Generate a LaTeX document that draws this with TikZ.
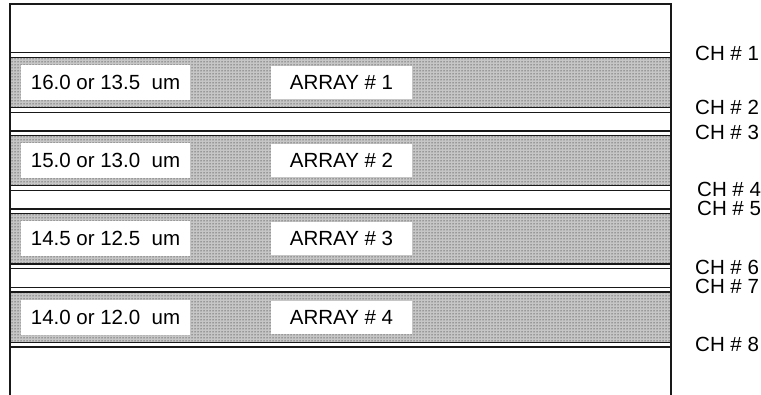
\documentclass[tikz,border=0pt]{standalone}
\usepackage{fontspec}
\setmainfont{Liberation Sans}
\usetikzlibrary{patterns}
\begin{document}
\begin{tikzpicture}[x=1pt,y=-1pt,
  frameline/.style={draw=black!90, line width=1.3pt},
  band/.style={draw=black!90, line width=1.2pt, preaction={fill=gray!45}, pattern=dots, pattern color=black},
  lblbox/.style={fill=white, draw=none, inner sep=0pt, font=\fontsize{20.5}{23}\selectfont},
  chlbl/.style={anchor=base west, inner sep=0pt, font=\fontsize{20.5}{23}\selectfont}]
\useasboundingbox (0,0) rectangle (761,395);
% outer frame
\draw[frameline] (10,395) -- (10,4) -- (671,4) -- (671,395);
% strips
\foreach \k/\lefttxt in {0/{16.0 or 13.5\ \ um},1/{15.0 or 13.0\ \ um},2/{14.5 or 12.5\ \ um},3/{14.0 or 12.0\ \ um}}{
  \pgfmathsetmacro{\yt}{52.7+78.2*\k}
  \pgfmathsetmacro{\yb}{112.3+78.2*\k}
  \pgfmathsetmacro{\yc}{82.5+78.2*\k}
  \draw[frameline] (10,\yt) -- (671,\yt);
  \draw[frameline] (10,\yb) -- (671,\yb);
  \path[band] (10,\yt+4.7) rectangle (671,\yb-4.7);
  \node[lblbox, minimum width=169pt, minimum height=35pt] (w\k) at (105.5,\yc) {\lefttxt};
  \pgfmathtruncatemacro{\n}{\k+1}
  \node[lblbox, minimum width=141pt, minimum height=33pt] (a\k) at (341.5,\yc) {ARRAY \#\ \n};
}
% channel labels
\node[chlbl] (ch1) at (695,61) {CH \# 1};
\node[chlbl] (ch2) at (695,115) {CH \# 2};
\node[chlbl] (ch3) at (695,140) {CH \# 3};
\node[chlbl] (ch4) at (697,196.7) {CH \# 4};
\node[chlbl] (ch5) at (697,216) {CH \# 5};
\node[chlbl] (ch6) at (695,275) {CH \# 6};
\node[chlbl] (ch7) at (695,293.5) {CH \# 7};
\node[chlbl] (ch8) at (695,351.7) {CH \# 8};
\end{tikzpicture}
\end{document}
